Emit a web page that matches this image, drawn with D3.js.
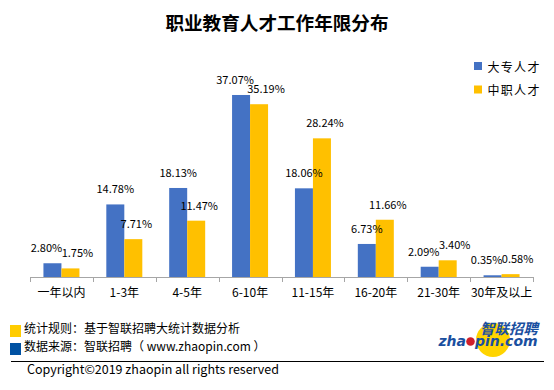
<!DOCTYPE html>
<html>
<head>
<meta charset="utf-8">
<script src="https://cdn.jsdelivr.net/npm/d3@7"></script>
<style>
  html, body { margin: 0; padding: 0; background: #fff; }
  svg { display: block; }
</style>
</head>
<body>
<svg id="chart" width="554" height="390"></svg>
<script>
// ── Data ──────────────────────────────────────────
const categories = ['一年以内', '1-3年', '4-5年', '6-10年', '11-15年', '16-20年', '21-30年', '30年及以上'];
const seriesNames = ['大专人才', '中职人才'];
const dazhuan = [2.80, 14.78, 18.13, 37.07, 18.06, 6.73, 2.09, 0.35];
const zhongzhi = [1.75, 7.71, 11.47, 35.19, 28.24, 11.66, 3.40, 0.58];
const seriesColors = ['#4472C4', '#FFC000'];

const footnotes = ['统计规则：基于智联招聘大统计数据分析', '数据来源：智联招聘（ www.zhaopin.com ）'];
const footColors = ['#FFCC00', '#0051A2'];

// ── Layout ────────────────────────────────────────
const W = 554, H = 390;
const axisY = 277;
const plotL = 30, plotR = 533;
const FONT = '"Microsoft YaHei", "Noto Sans CJK SC", sans-serif';

const svg = d3.select('#chart');

// Title
svg.append('text')
  .attr('x', W / 2)
  .attr('y', 30)
  .attr('text-anchor', 'middle')
  .attr('font-family', FONT)
  .attr('font-weight', 'bold')
  .attr('font-size', 18.6)
  .attr('fill', '#000')
  .text('职业教育人才工作年限分布');

// Scales
const x0 = d3.scaleBand().domain(categories).range([plotL, plotR]).padding(0);
const pairW = 36;
const x1 = d3.scaleBand().domain(seriesNames)
  .range([(x0.bandwidth() - pairW) / 2, (x0.bandwidth() + pairW) / 2]);
const y = d3.scaleLinear().domain([0, 40]).range([axisY, axisY - 40 * 4.91]);

const rows = categories.map((c, i) => ({ cat: c, vals: [dazhuan[i], zhongzhi[i]] }));

// Bars
const groups = svg.append('g').attr('class', 'bars')
  .selectAll('g').data(rows).join('g')
  .attr('transform', d => `translate(${x0(d.cat)},0)`);

groups.selectAll('rect')
  .data(d => d.vals.map((v, k) => ({ v, k })))
  .join('rect')
  .attr('x', d => x1(seriesNames[d.k]))
  .attr('y', d => y(d.v))
  .attr('width', x1.bandwidth())
  .attr('height', d => axisY - y(d.v))
  .attr('fill', d => seriesColors[d.k]);

// Value labels — pushed apart sideways when the pair sits at similar heights
groups.selectAll('text')
  .data(d => {
    const close = Math.abs(y(d.vals[0]) - y(d.vals[1])) < 12;
    return d.vals.map((v, k) => ({ v, k, nudge: close ? (k === 0 ? -6 : 7) : (k === 1 ? 3 : 0) }));
  })
  .join('text')
  .attr('x', d => x1(seriesNames[d.k]) + x1.bandwidth() / 2 + d.nudge)
  .attr('y', d => y(d.v) - 11)
  .attr('text-anchor', 'middle')
  .attr('font-family', FONT)
  .attr('font-size', 11)
  .attr('fill', '#000')
  .text(d => d.v.toFixed(2) + '%');

// X axis
const axis = svg.append('g')
  .attr('transform', `translate(0,${axisY})`)
  .call(d3.axisBottom(x0).tickSize(0).tickPadding(11));
axis.select('.domain').attr('stroke', '#A6A6A6').attr('d', `M${plotL},0.5H${plotR}`);
axis.selectAll('text')
  .attr('font-family', FONT)
  .attr('font-size', 12)
  .attr('fill', '#000');
// category boundary ticks
const bounds = categories.map(c => x0(c)).concat([plotR]);
axis.selectAll('line.bound').data(bounds).join('line')
  .attr('class', 'bound')
  .attr('x1', d => Math.round(d) + 0.5).attr('x2', d => Math.round(d) + 0.5)
  .attr('y1', 0).attr('y2', 5)
  .attr('stroke', '#A6A6A6');

// Legend
const legend = svg.append('g').attr('transform', 'translate(474,62)');
seriesNames.forEach((name, i) => {
  const g = legend.append('g').attr('transform', `translate(0,${i * 23.5})`);
  g.append('rect').attr('width', 8).attr('height', 8).attr('fill', seriesColors[i]);
  g.append('text')
    .attr('x', 13.5).attr('y', 9.5)
    .attr('font-family', FONT)
    .attr('font-size', 12)
    .attr('letter-spacing', 1.3)
    .attr('fill', '#000')
    .text(name);
});

// Footnotes
footnotes.forEach((t, i) => {
  svg.append('rect')
    .attr('x', 10).attr('y', 325 + i * 18)
    .attr('width', 11).attr('height', 12)
    .attr('fill', footColors[i]);
  svg.append('text')
    .attr('x', 24).attr('y', 333 + i * 17.5)
    .attr('font-family', FONT)
    .attr('font-size', 12)
    .attr('fill', '#000')
    .text(t);
});

svg.append('line')
  .attr('x1', 11).attr('x2', 544)
  .attr('y1', 361.5).attr('y2', 361.5)
  .attr('stroke', '#000').attr('stroke-width', 1);

svg.append('text')
  .attr('x', 27).attr('y', 373.5)
  .attr('font-family', FONT)
  .attr('font-size', 12.5)
  .attr('fill', '#000')
  .text('Copyright©2019 zhaopin all rights reserved');

// Logo
const logo = svg.append('g');
logo.append('circle').attr('cx', 493).attr('cy', 340).attr('r', 17).attr('fill', '#FFD400');
logo.append('text')
  .attr('x', 480).attr('y', 334)
  .attr('font-family', FONT)
  .attr('font-weight', 'bold')
  .attr('font-style', 'italic')
  .attr('font-size', 14.5)
  .attr('fill', '#1A4FA0')
  .text('智联招聘');
logo.append('text')
  .attr('x', 466).attr('y', 346)
  .attr('text-anchor', 'end')
  .attr('font-family', '"DejaVu Sans", sans-serif')
  .attr('font-weight', 'bold')
  .attr('font-style', 'italic')
  .attr('font-size', 14)
  .attr('fill', '#1A4FA0')
  .text('zha');
logo.append('circle').attr('cx', 470.5).attr('cy', 341.5).attr('r', 4.3).attr('fill', '#D0202A');
logo.append('text')
  .attr('x', 475).attr('y', 346)
  .attr('font-family', '"DejaVu Sans", sans-serif')
  .attr('font-weight', 'bold')
  .attr('font-style', 'italic')
  .attr('font-size', 14)
  .attr('fill', '#1A4FA0')
  .text('pin.com');
</script>
</body>
</html>
